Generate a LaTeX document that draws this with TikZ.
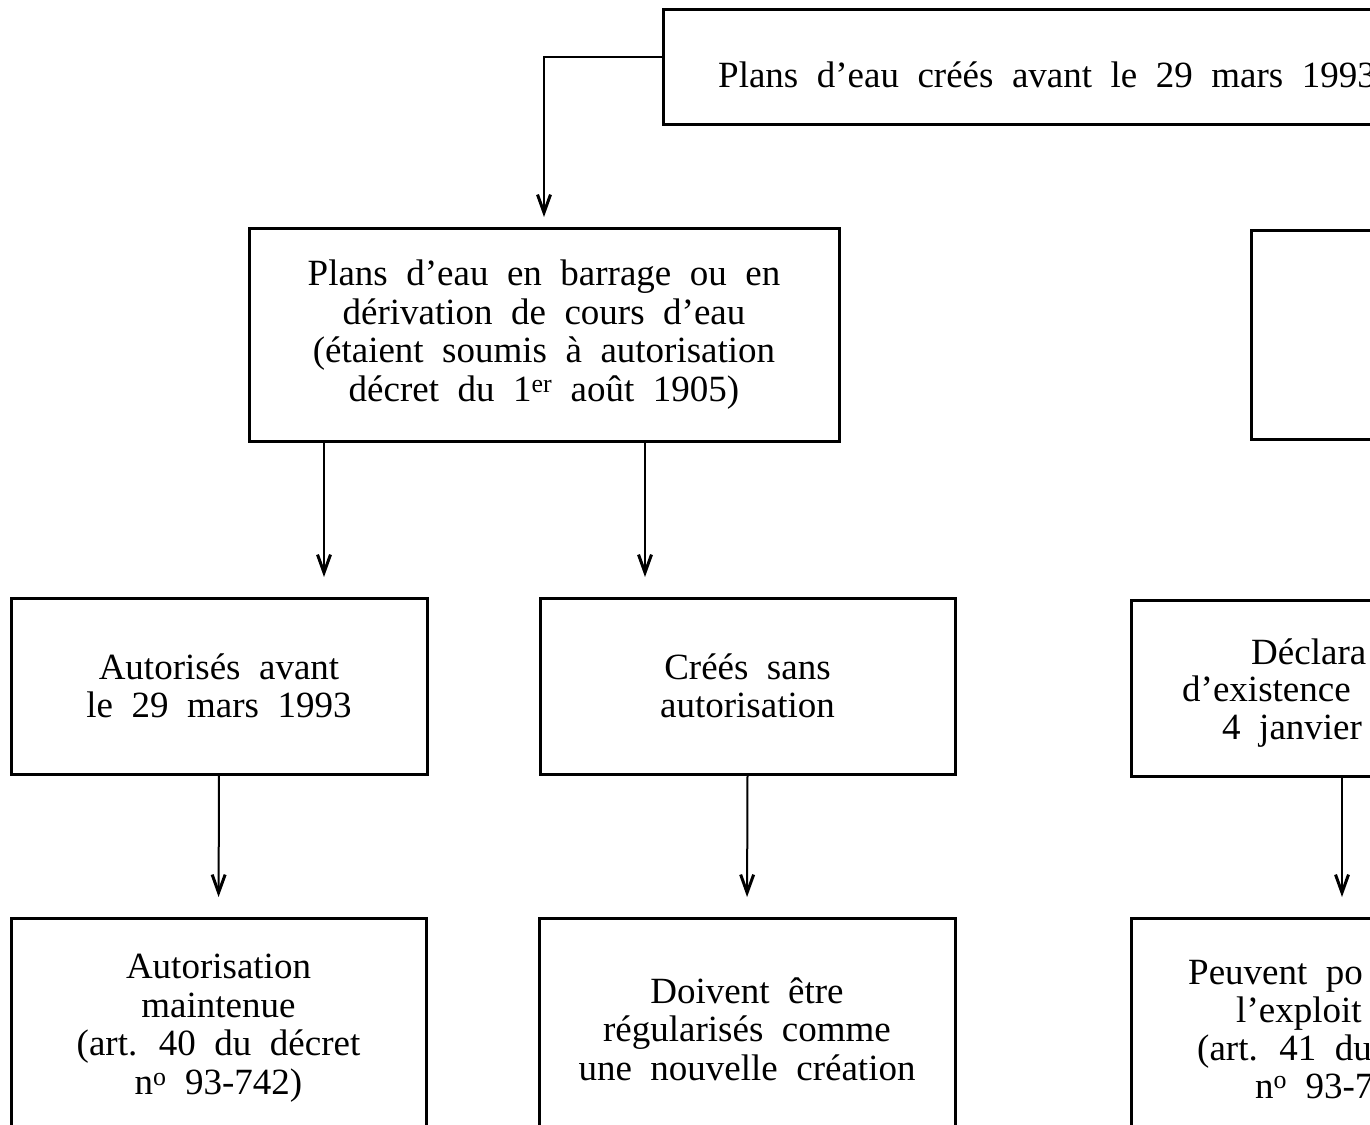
\documentclass[tikz,border=0pt]{standalone}
\usepackage{fontspec}
\setmainfont{Liberation Serif}
\usetikzlibrary{arrows.meta,calc}
\newcommand{\diagfont}{\fontsize{37}{38.6}\selectfont\spaceskip=18.5pt\relax}
\begin{document}
\begin{tikzpicture}[x=1pt,y=-1pt,
  box/.style={draw, line width=3pt, inner sep=0pt, outer sep=0pt, anchor=north west,
    align=center, font=\diagfont},
  seg/.style={font=\diagfont, inner sep=0pt, anchor=base west},
  arr/.style={line width=2pt, -{Straight Barb[length=18pt,width=13pt,line width=3pt]}}]
\path[use as bounding box] (0,0) rectangle (1370,1124);
\clip (0,0) rectangle (1370,1124);
% top row
\node[box, minimum width=900pt, minimum height=114pt] (b1) at (663,10) {};
\node[seg] (t1) at (718,87) {Plans d’eau créés avant le 29 mars 1993};
% second row
\node[box, minimum width=590pt, minimum height=213pt] (b2) at (249,228)
  {Plans d’eau en barrage ou en\\dérivation de cours d’eau\\(étaient soumis à autorisation\\décret du 1\textsuperscript{er} août 1905)};
\node[box, minimum width=300pt, minimum height=209pt] (b6) at (1251,230) {};
% third row
\node[box, minimum width=416pt, minimum height=176pt] (b3) at (11,598)
  {Autorisés avant\\le 29 mars 1993};
\node[box, minimum width=415pt, minimum height=176pt] (b4) at (540,598)
  {Créés sans\\autorisation};
\node[box, minimum width=420pt, minimum height=176pt] (b5) at (1131,600) {};
\node[seg] (t5a) at (1251,664) {Déclara};
\node[seg] (t5b) at (1182,701) {d’existence};
\node[seg] (t5c) at (1222,739) {4 janvier};
% bottom row
\node[box, minimum width=415pt, minimum height=220pt] (b8) at (11,918)
  {Autorisation\\maintenue\\(art. 40 du décret\\n\textsuperscript{o} 93-742)};
\node[box, minimum width=416pt, minimum height=222pt] (b9) at (539,918)
  {Doivent être\\régularisés comme\\une nouvelle création};
\node[box, minimum width=420pt, minimum height=260pt] (b7) at (1131,918) {};
\node[seg] (t7a) at (1188,984) {Peuvent po};
\node[seg] (t7b) at (1236,1022) {l’exploit};
\node[seg] (t7c) at (1197,1060) {(art. 41 du};
\node[seg] (t7d) at (1255,1098) {n\textsuperscript{o} 93-7};
% connectors
\draw[arr, shorten >=11pt] ([yshift=10pt]b1.west) -| (b2.north);
\draw[arr, shorten >=21pt] ([xshift=-220pt]b2.south) -- ([xshift=-220pt]b2.south |- b3.north);
\draw[arr, shorten >=21pt] ([xshift=101pt]b2.south) -- ([xshift=101pt]b2.south |- b4.north);
\draw[arr, shorten >=21pt] (b3.south) -- (b8.north);
\draw[arr, shorten >=21pt] (b4.south) -- (b9.north);
\draw[arr, shorten >=21pt] ([xshift=211pt]b5.south west) -- ([xshift=211pt]b5.south west |- b7.north);
\end{tikzpicture}
\end{document}
